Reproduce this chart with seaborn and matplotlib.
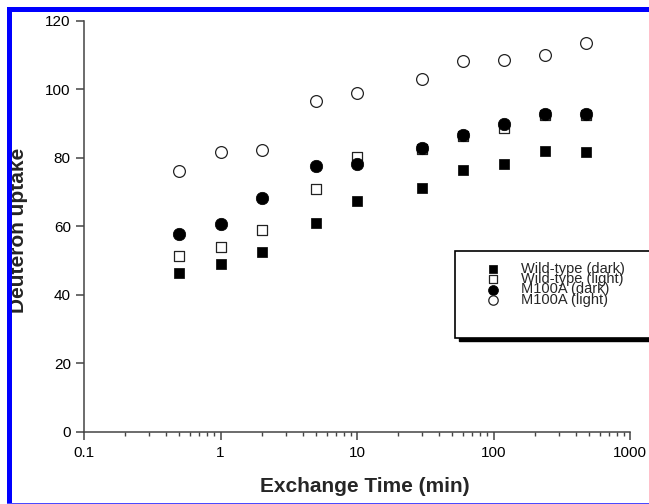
import matplotlib
matplotlib.use("Agg")
import matplotlib.pyplot as plt
import matplotlib.ticker as mticker
from matplotlib.patches import Rectangle
import pandas as pd
import seaborn as sns

# exchange times (min) and deuteron uptake
time_min = [0.5, 1, 2, 5, 10, 30, 60, 120, 240, 480]
wt_dark = [46.3, 49.0, 52.5, 60.9, 67.2, 71.0, 76.4, 78.1, 82.0, 81.6]
wt_light = [51.3, 54.0, 58.8, 70.8, 80.3, 82.5, 86.3, 88.6, 92.5, 92.5]
m100a_dark = [57.6, 60.6, 68.1, 77.5, 78.2, 82.7, 86.5, 89.7, 92.8, 92.8]
m100a_light = [76.0, 81.7, 82.3, 96.4, 98.8, 103.0, 108.2, 108.6, 110.0, 113.5]

labels = ["Wild-type (dark)", "Wild-type (light)", "M100A (dark)", "M100A (light)"]
xticks = [0.1, 1, 10, 100, 1000]
xtick_labels = ["0.1", "1", "10", "100", "1000"]
yticks = [0, 20, 40, 60, 80, 100, 120]

sns.set_style("ticks")
plt.rcParams["font.family"] = ["Liberation Sans", "DejaVu Sans"]

W, H = 649, 504
fig = plt.figure(figsize=(W / 100, H / 100), dpi=100)
ax = fig.add_axes([84 / W, 1 - 431.7 / H, 546 / W, 411.2 / H])

series = [wt_dark, wt_light, m100a_dark, m100a_light]
styles = [
    dict(marker="s", s=52, color="black", edgecolor="black", linewidth=0.5),
    dict(marker="s", s=50, color="white", edgecolor="#222222", linewidth=0.9),
    dict(marker="o", s=80, color="black", edgecolor="black", linewidth=0.5),
    dict(marker="o", s=72, color="white", edgecolor="#222222", linewidth=0.9),
]
for vals, lab, st in zip(series, labels, styles):
    df = pd.DataFrame({"time": time_min, "uptake": vals})
    sns.scatterplot(data=df, x="time", y="uptake", ax=ax, label=lab, **st)

ax.set_xscale("log")
ax.set_xlim(0.1, 1000)
ax.set_ylim(0, 120)
ax.set_xticks(xticks)
ax.set_xticklabels(xtick_labels)
ax.xaxis.set_minor_locator(mticker.LogLocator(base=10, subs=range(2, 10)))
ax.xaxis.set_minor_formatter(mticker.NullFormatter())
ax.set_yticks(yticks)

sns.despine(ax=ax)
for sp in ["left", "bottom"]:
    ax.spines[sp].set_color("#444444")
    ax.spines[sp].set_linewidth(1.1)
ax.tick_params(axis="both", which="major", labelsize=11, colors="#444444",
               labelcolor="black", width=1.1, length=6)
ax.tick_params(axis="x", which="major", pad=4.5)
ax.tick_params(axis="y", which="major", pad=3.5)
ax.tick_params(axis="x", which="minor", colors="#444444", width=1.0, length=3)
ax.set_facecolor("none")

ax.set_xlabel("Exchange Time (min)", fontsize=15, fontweight="bold")
ax.set_ylabel("Deuteron uptake", fontsize=15, fontweight="bold")
ax.xaxis.set_label_coords(0.515, -0.110)
ax.yaxis.set_label_coords(-0.102, 0.489)

# legend box with drop shadow, running off the right edge
box_l, box_t, box_b = 455, 251, 338
ax.add_patch(Rectangle(((box_l + 4) / W, 1 - (box_b + 3) / H), 0.5, (box_b - box_t) / H,
                       transform=fig.transFigure, facecolor="black", edgecolor="black",
                       clip_on=False, zorder=4))
ax.add_patch(Rectangle((box_l / W, 1 - box_b / H), 0.5, (box_b - box_t) / H,
                       transform=fig.transFigure, facecolor="white", edgecolor="black",
                       linewidth=1.2, clip_on=False, zorder=4))
ax.legend(loc="upper left", bbox_to_anchor=(485.7 / W, 1 - 261.5 / H),
          bbox_transform=fig.transFigure, frameon=False, fontsize=10.5,
          labelspacing=-0.24, handlelength=1.0, handletextpad=1.4,
          borderpad=0, borderaxespad=0, scatterpoints=1, markerscale=0.8)

# blue frame of the screenshot
blue = "#0000ff"
fig.add_artist(Rectangle((7 / W, 0), 5 / W, 1 - 7 / H, transform=fig.transFigure,
                         facecolor=blue, edgecolor="none", zorder=10))
fig.add_artist(Rectangle((7 / W, 1 - 12 / H), 1, 5 / H, transform=fig.transFigure,
                         facecolor=blue, edgecolor="none", zorder=10))
fig.add_artist(Rectangle((7 / W, 0), 1, 1.2 / H, transform=fig.transFigure,
                         facecolor="#4a4aff", edgecolor="none", zorder=10))

fig.savefig("out.png", dpi=100, facecolor="white")
